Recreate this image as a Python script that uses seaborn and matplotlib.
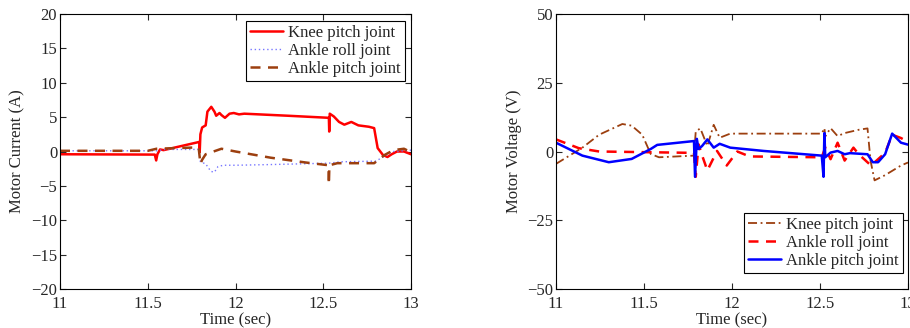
import numpy as np
import pandas as pd
import matplotlib
matplotlib.use("Agg")
import matplotlib.pyplot as plt
import seaborn as sns

# ---------------- data: motor current (A) ----------------
knee_cur_t = [11.0, 11.54, 11.548, 11.555, 11.57, 11.59, 11.795, 11.796, 11.80, 11.81, 11.83,
              11.84, 11.862, 11.88, 11.89, 11.909, 11.92, 11.94, 11.966, 11.99, 12.02, 12.05,
              12.3, 12.532, 12.534, 12.537, 12.56, 12.59, 12.62, 12.66, 12.70, 12.76, 12.79,
              12.81, 12.84, 12.866, 12.89, 12.92, 12.96, 13.0]
knee_cur = [-0.4, -0.45, -1.3, -0.4, 0.3, 0.2, 1.4, -0.1, 2.5, 3.5, 3.8,
            5.8, 6.5, 5.8, 5.2, 5.6, 5.3, 4.9, 5.5, 5.6, 5.4, 5.5,
            5.2, 4.9, 2.9, 5.5, 5.1, 4.3, 3.9, 4.3, 3.8, 3.6, 3.4,
            0.5, -0.5, -0.8, -0.4, 0.0, 0.0, -0.4]

roll_cur_t = [11.0, 11.55, 11.6, 11.79, 11.80, 11.83, 11.86, 11.88, 11.90, 11.93, 12.0,
              12.2, 12.53, 12.6, 12.8, 12.86, 12.9, 12.95, 13.0]
roll_cur = [0.1, 0.1, 0.3, 0.3, -1.5, -1.8, -2.9, -3.0, -2.2, -2.0, -2.0,
            -1.9, -1.7, -1.5, -1.4, -0.5, 0.0, 0.1, 0.2]

pitch_cur_t = [11.0, 11.5, 11.55, 11.79, 11.80, 11.81, 11.83, 11.92, 12.0, 12.2, 12.4,
               12.53, 12.532, 12.535, 12.58, 12.79, 12.85, 12.9, 12.96, 13.0]
pitch_cur = [0.1, 0.1, 0.4, 0.6, -1.8, -1.2, -0.4, 0.4, 0.0, -0.9, -1.6,
             -2.0, -4.8, -2.0, -1.7, -1.7, -0.5, 0.2, 0.4, -0.1]

# ---------------- data: motor voltage (V) ----------------
knee_v_t = [11.0, 11.15, 11.245, 11.377, 11.43, 11.49, 11.538, 11.585, 11.784, 11.794,
            11.82, 11.86, 11.896, 11.93, 11.99, 12.51, 12.525, 12.53, 12.56, 12.60, 12.64,
            12.72, 12.77, 12.787, 12.81, 12.87, 12.96, 13.0]
knee_v = [-4.5, 1.4, 6.1, 10.0, 9.4, 6.1, -0.9, -2.1, -1.5, 7.3,
          8.4, 2.0, 9.7, 5.0, 6.5, 6.5, 8.5, 5.5, 8.5, 5.6, 6.7,
          7.9, 8.4, -3.3, -10.5, -8.6, -5.1, -4.0]

roll_v_t = [11.0, 11.13, 11.245, 11.784, 11.794, 11.81, 11.83, 11.86, 11.915, 11.97,
            12.03, 12.10, 12.51, 12.53, 12.56, 12.60, 12.64, 12.69, 12.72, 12.79, 12.83,
            12.87, 12.91, 12.96, 13.0]
roll_v = [4.4, 1.2, 0.0, -0.5, -9.2, 2.6, -1.4, -6.9, 0.2, -5.1,
          0.0, -1.8, -2.1, 1.5, -2.8, 3.2, -3.3, 1.4, -1.0, -5.1, -2.8,
          -0.5, 6.1, 4.9, 3.5]

pitch_v_t = [11.0, 11.15, 11.3, 11.43, 11.538, 11.575, 11.784, 11.79, 11.80, 11.81, 11.83,
             11.86, 11.896, 11.93, 11.99, 12.18, 12.51, 12.52, 12.525, 12.53, 12.56, 12.60,
             12.64, 12.67, 12.77, 12.80, 12.83, 12.87, 12.91, 12.96, 13.0]
pitch_v = [3.2, -1.5, -3.9, -2.7, 0.9, 2.4, 3.8, -9.2, 4.6, 0.9, 2.0,
           4.4, 1.4, 2.8, 1.4, 0.2, -1.5, -9.2, 6.7, -2.1, -0.4, 0.2,
           -1.0, -0.6, -1.0, -3.9, -3.9, -1.0, 6.5, 3.2, 2.5]

x_ticks = [11, 11.5, 12, 12.5, 13]
x_tick_labels = ["11", "11.5", "12", "12.5", "13"]
cur_ticks = [20, 15, 10, 5, 0, -5, -10, -15, -20]
volt_ticks = [50, 25, 0, -25, -50]

# ---------------- style ----------------
sns.set_style("ticks")
plt.rcParams["font.family"] = ["Liberation Serif", "DejaVu Serif"]
plt.rcParams["font.size"] = 12
plt.rcParams["axes.linewidth"] = 0.8

BROWN = "#9c3f0f"
RED = "#ff0000"
BLUE = "#0000ff"
LBLUE = "#7777ff"

W, H = 910, 328
fig = plt.figure(figsize=(9.1, 3.28), dpi=100)
ax1 = fig.add_axes([60 / W, 39 / H, 351 / W, 275 / H])
ax2 = fig.add_axes([556 / W, 39 / H, 352 / W, 275 / H])


def draw(ax, t, y, label, color, ls, lw):
    df = pd.DataFrame({"t": t, "y": y})
    sns.lineplot(data=df, x="t", y="y", ax=ax, color=color, linestyle=ls,
                 linewidth=lw, label=label, estimator=None, sort=False)


draw(ax1, knee_cur_t, knee_cur, "Knee pitch joint", RED, "-", 1.8)
draw(ax1, roll_cur_t, roll_cur, "Ankle roll joint", LBLUE, (0, (1, 2)), 1.0)
draw(ax1, pitch_cur_t, pitch_cur, "Ankle pitch joint", BROWN, (0, (4, 3)), 1.8)

draw(ax2, knee_v_t, knee_v, "Knee pitch joint", BROWN, (0, (5, 2, 1, 2)), 1.3)
draw(ax2, roll_v_t, roll_v, "Ankle roll joint", RED, (0, (4, 3)), 1.8)
draw(ax2, pitch_v_t, pitch_v, "Ankle pitch joint", BLUE, "-", 1.8)


def fmt(v):
    s = "%g" % v
    return s.replace("-", "\u2212")


for ax, yt, ylim, ylabel in [(ax1, cur_ticks, (-20, 20), "Motor Current (A)"),
                              (ax2, volt_ticks, (-50, 50), "Motor Voltage (V)")]:
    ax.set_xlim(11, 13)
    ax.set_ylim(*ylim)
    ax.set_xticks(x_ticks)
    ax.set_xticklabels(x_tick_labels)
    ax.set_yticks(yt)
    ax.set_yticklabels([fmt(v) for v in yt])
    ax.set_xlabel("Time (sec)", labelpad=0)
    ax.set_ylabel(ylabel, labelpad=4)
    ax.tick_params(direction="in", top=True, right=True, length=4, width=0.8,
                   labelsize=12)
    ax.tick_params(axis="x", pad=5)
    ax.tick_params(axis="y", pad=2)
    for s in ax.spines.values():
        s.set_color("black")
        s.set_visible(True)

leg_kw = dict(fontsize=12, frameon=True, fancybox=False, edgecolor="black",
              framealpha=1, borderpad=0.25, labelspacing=0.12, handlelength=2.0,
              handletextpad=0.3, borderaxespad=0.0)
leg1 = ax1.legend(loc="upper right", bbox_to_anchor=(0.983, 0.975), **leg_kw)
leg1.get_frame().set_linewidth(0.8)
leg2 = ax2.legend(loc="lower right", bbox_to_anchor=(0.986, 0.058), **leg_kw)
leg2.get_frame().set_linewidth(0.8)

fig.savefig("out.png", dpi=100)
